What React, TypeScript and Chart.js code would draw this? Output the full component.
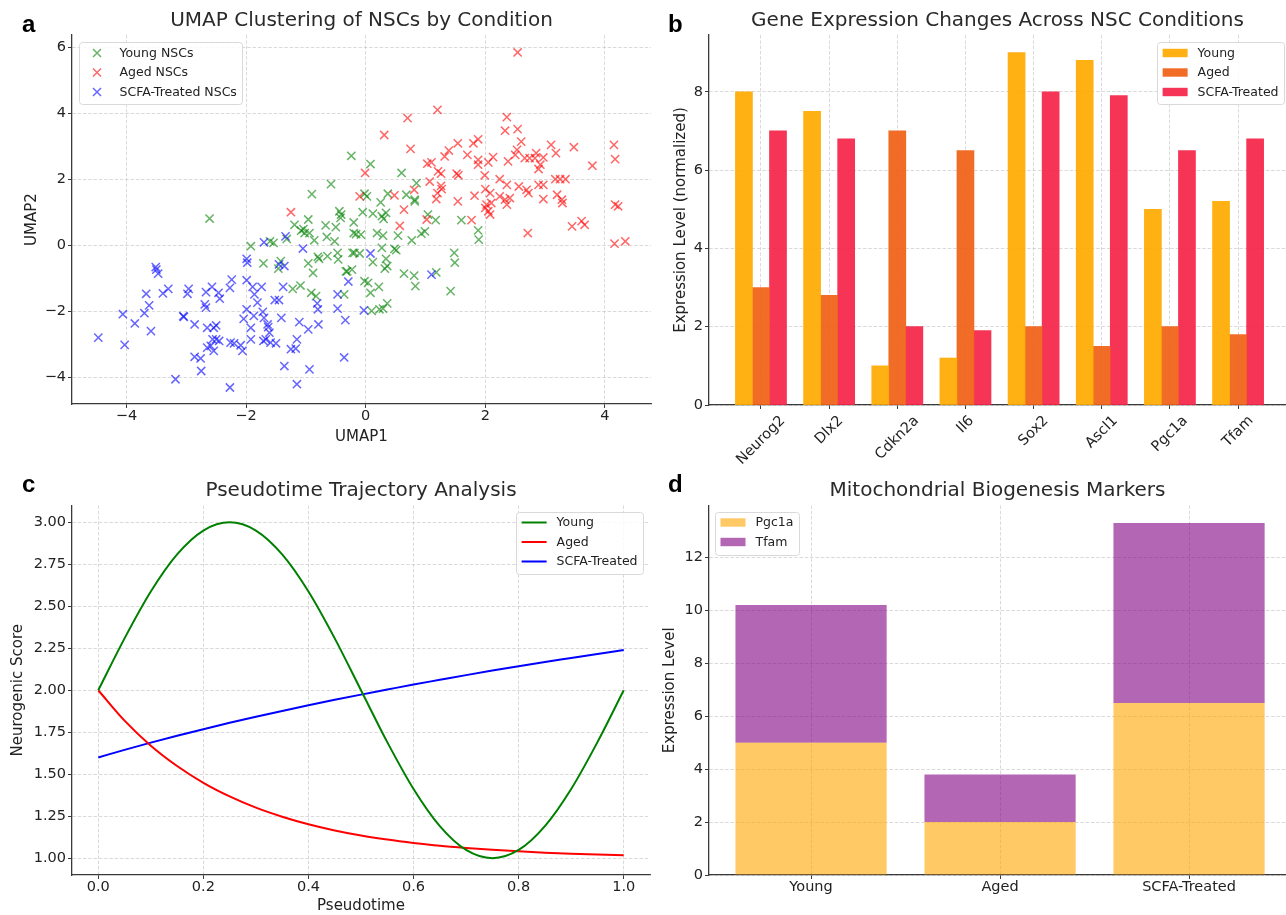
import React, { useEffect, useRef } from 'react';
import { Chart, registerables } from 'chart.js';

Chart.register(...registerables);

// ---------------- Panel a: UMAP scatter ----------------
const youngNSCs: [number, number][] = [
  [-2.61, 0.82], [-1.92, -0.02], [-1.71, -0.54], [-1.6, 0.13], [-1.54, 0.08], [-1.46, -0.7], [-1.42, -0.47], [-1.32, 0.2],
  [-1.22, -1.31], [-1.19, 0.63], [-1.09, -1.21], [-1.08, 0.45], [-1.04, 0.5], [-1.02, 0.38], [-0.96, 0.79], [-0.94, 0.38],
  [-0.96, -0.54], [-0.91, -1.43], [-0.83, -1.53], [-0.88, -0.83], [-0.86, 0.16], [-0.8, -0.34], [-0.78, -0.4], [-0.67, 0.61],
  [-0.65, 0.26], [-0.64, -0.32], [-0.52, 0.13], [-0.5, 0.56], [-0.47, -0.22], [-0.46, -0.42], [-0.44, 1.04], [-0.42, 0.84],
  [-0.36, -1.48], [-0.31, -0.78], [-0.2, 0.7], [-0.2, 0.38], [-0.16, 0.35], [-0.23, -0.73], [-0.19, -0.22],
  [-0.05, 1.01], [0.12, 0.97], [0.25, 1.31], [0.3, 0.81], [0.27, 0.89], [0.34, 0.99], [0.82, 1.34], [-0.08, 0.33],
  [0.19, 0.38], [0.29, 0.3], [0.54, 0.3], [0.77, 0.16], [0.93, 0.36], [0.99, 0.43], [1.04, 0.94], [1.17, 0.77],
  [1.6, 0.77], [1.88, 0.46], [1.89, 0.18], [-0.22, -0.22], [-0.1, -0.24], [0.12, -0.5], [0.27, -0.07], [0.34, -0.4],
  [0.48, -0.1], [0.51, -0.14], [0.32, -0.7], [0.36, -0.62], [-0.33, -0.78], [0.64, -0.85], [0.81, -0.91], [0.83, -1.23],
  [1.18, -0.81], [1.48, -0.22], [1.49, -0.52], [1.42, -1.38], [-0.02, -1.08], [0.04, -1.13], [0.08, -1.43], [0.22, -1.25],
  [0.1, -1.98], [0.23, -1.93], [0.29, -1.91], [0.36, -1.75], [-0.24, 2.72], [-0.58, 1.86], [-0.9, 1.56], [0.08, 2.47],
  [0.6, 2.2], [0.85, 1.89], [0.82, 1.39], [-0.02, 1.57], [0.02, 1.49], [0.37, 1.57], [0.68, 1.54], [-0.41, 0.94],
];
const agedNSCs: [number, number][] = [
  [2.54, 5.85], [1.2, 4.11], [0.7, 3.86], [0.31, 3.35], [2.36, 3.89], [2.33, 3.48], [2.54, 3.53], [2.6, 3.15],
  [0.75, 2.93], [1.54, 3.1], [1.8, 3.1], [1.88, 3.22], [1.7, 2.75], [1.32, 2.7], [1.39, 2.88], [3.1, 3.05],
  [3.18, 2.8], [3.48, 2.98], [3.79, 2.42], [4.15, 3.05], [4.17, 2.62], [-0.01, 2.2], [1.03, 2.48], [1.1, 2.52],
  [1.21, 2.25], [1.26, 2.18], [1.26, 1.81], [1.27, 1.71], [1.2, 1.59], [1.18, 1.41], [1.07, 1.94], [1.52, 2.18],
  [1.55, 2.13], [1.54, 1.34], [1.82, 1.51], [1.88, 2.6], [1.88, 2.45], [1.99, 2.13], [2.05, 2.52], [2.13, 2.68],
  [2.0, 1.71], [2.08, 1.59], [2.0, 1.14], [2.05, 1.04], [2.02, 1.24], [2.1, 1.29], [2.24, 2.01], [2.24, 1.49],
  [2.33, 1.39], [2.36, 1.24], [2.41, 1.44], [2.36, 1.84], [2.38, 2.55], [2.5, 2.75], [2.53, 2.9], [2.56, 1.79],
  [2.66, 2.65], [2.74, 2.65], [2.83, 2.65], [2.85, 2.8], [2.89, 2.32], [2.92, 2.45], [2.89, 1.84], [2.97, 1.84],
  [2.97, 2.67], [2.69, 1.69], [2.72, 1.59], [2.97, 1.41], [3.17, 2.01], [3.25, 2.01], [3.34, 2.01], [3.2, 1.54],
  [3.28, 1.39], [3.29, 1.29], [0.64, 1.09], [0.81, 1.69], [0.48, 1.52], [-0.1, 1.49], [0.57, 0.6], [1.02, 0.79],
  [1.77, 0.77], [3.45, 0.58], [3.61, 0.74], [3.66, 0.63], [4.17, 1.24], [4.22, 1.19], [2.71, 0.38], [4.16, 0.06],
  [4.34, 0.13], [2.08, 0.94], [-1.25, 1.01],
];
const scfaNSCs: [number, number][] = [
  [-4.47, -2.79], [-4.06, -2.08], [-4.03, -3.01], [-3.86, -2.36], [-3.7, -2.05], [-3.67, -1.46], [-3.62, -1.81], [-3.59, -2.59],
  [-3.51, -0.65], [-3.5, -0.73], [-3.47, -0.85], [-3.39, -1.45], [-3.3, -1.31], [-3.18, -4.05], [-3.05, -2.14], [-3.04, -2.16],
  [-2.98, -1.46], [-2.96, -1.31], [-2.86, -2.39], [-2.86, -3.37], [-2.76, -3.42], [-2.75, -3.8], [-2.69, -1.78], [-2.67, -1.88],
  [-2.67, -1.41], [-2.65, -2.49], [-2.57, -1.25], [-2.54, -2.49], [-2.5, -2.42], [-2.46, -1.43], [-2.44, -1.61], [-2.65, -3.09],
  [-2.56, -2.84], [-2.54, -3.19], [-2.5, -2.84], [-2.59, -3.04], [-2.45, -2.89], [-2.27, -1.28], [-2.24, -1.03], [-2.27, -4.3],
  [-2.26, -2.94], [-2.2, -2.96], [-2.04, -2.22], [-2.06, -3.19], [-1.99, -1.05], [-2.09, -3.02], [-1.99, -0.4], [-1.98, -0.52],
  [-1.99, -1.93], [-1.92, -2.49], [-1.92, -2.84], [-1.89, -1.25], [-1.86, -1.48], [-1.87, -2.13], [-1.81, -1.73], [-1.74, -1.25],
  [-1.72, -2.01], [-1.7, -2.19], [-1.64, -2.39], [-1.63, -2.47], [-1.61, -2.64], [-1.67, -2.84], [-1.59, -2.94], [-1.5, -2.96],
  [-1.71, -2.89], [-1.7, 0.1], [-1.52, -1.65], [-1.45, -1.65], [-1.45, -0.57], [-1.36, -0.62], [-1.41, -2.19], [-1.38, -1.25],
  [-1.36, -3.65], [-1.34, 0.28], [-1.25, -3.14], [-1.15, -2.84], [-1.17, -3.12], [-1.15, -4.2], [-1.11, -2.32], [-1.05, -0.09],
  [-0.96, -2.54], [-0.94, -3.75], [-0.81, -1.75], [-0.8, -1.93], [-0.79, -2.39], [-0.47, -1.48], [-0.47, -1.91], [-0.36, -3.39],
  [-0.34, -2.26], [-0.29, -1.09], [0.08, -0.24], [1.1, -0.88], [-0.03, -1.96],
];
const umapXTicks = [-4, -2, 0, 2, 4];
const umapYTicks = [-4, -2, 0, 2, 4, 6];

// ---------------- Panel b: gene expression ----------------
const genes = ['Neurog2', 'Dlx2', 'Cdkn2a', 'Il6', 'Sox2', 'Ascl1', 'Pgc1a', 'Tfam'];
const geneYoung = [8, 7.5, 1, 1.2, 9, 8.8, 5, 5.2];
const geneAged = [3, 2.8, 7, 6.5, 2, 1.5, 2, 1.8];
const geneSCFA = [7, 6.8, 2, 1.9, 8, 7.9, 6.5, 6.8];
const geneYTicks = [0, 2, 4, 6, 8];

// ---------------- Panel c: pseudotime ----------------
const pseudotime = [0, 0.05, 0.1, 0.15, 0.2, 0.25, 0.3, 0.35, 0.4, 0.45, 0.5, 0.55, 0.6, 0.65, 0.7, 0.75, 0.8, 0.85, 0.9, 0.95, 1.0];
const trajYoung = [2.0, 2.309, 2.588, 2.809, 2.951, 3.0, 2.951, 2.809, 2.588, 2.309, 2.0, 1.691, 1.412, 1.191, 1.049, 1.0, 1.049, 1.191, 1.412, 1.691, 2.0];
const trajAged = [2.0, 1.819, 1.67, 1.549, 1.449, 1.368, 1.301, 1.247, 1.202, 1.165, 1.135, 1.111, 1.091, 1.074, 1.061, 1.05, 1.041, 1.033, 1.027, 1.022, 1.018];
const trajSCFA = [1.6, 1.645, 1.688, 1.729, 1.768, 1.806, 1.842, 1.877, 1.911, 1.943, 1.974, 2.004, 2.034, 2.062, 2.09, 2.117, 2.143, 2.168, 2.192, 2.216, 2.24];
const ptXTicks = [0, 0.2, 0.4, 0.6, 0.8, 1.0];
const ptYTicks = [1.0, 1.25, 1.5, 1.75, 2.0, 2.25, 2.5, 2.75, 3.0];

// ---------------- Panel d: mitochondrial markers ----------------
const conditions = ['Young', 'Aged', 'SCFA-Treated'];
const mitoPgc1a = [5, 2, 6.5];
const mitoTfam = [5.2, 1.8, 6.8];
const mitoYTicks = [0, 2, 4, 6, 8, 10, 12];

// ---------------- styling ----------------
const FONT = '"DejaVu Sans", "Noto Sans", sans-serif';
const TEXT = '#222222';
const TITLE = '#2a2a2a';
const SPINE = '#3a3a3a';
const GRID = 'rgba(176,176,176,0.6)';

const fmtMinus = (v: number) => (v < 0 ? '\u2212' + Math.abs(v) : String(v));

function axis(o: {
  min: number; max: number; ticks: number[]; fmt: (v: number) => string; horizontal: boolean; size: number;
  title?: string; titlePad?: any; showLabels?: boolean;
}): any {
  return {
    type: 'linear',
    min: o.min,
    max: o.max,
    offset: false,
    afterBuildTicks: (s: any) => { s.ticks = o.ticks.map((v) => ({ value: v })); },
    afterFit: (s: any) => {
      if (o.horizontal) s.height = o.size; else s.width = o.size;
      s.paddingLeft = 0; s.paddingRight = 0; s.paddingTop = 0; s.paddingBottom = 0;
    },
    grid: { offset: false, color: GRID, lineWidth: 0.8, tickColor: SPINE, tickLength: 4, tickWidth: 1 },
    border: { display: true, color: SPINE, width: 1.3, dash: [3.5, 1.8] },
    ticks: {
      display: o.showLabels !== false,
      font: { family: FONT, size: 14.5, lineHeight: 1 },
      color: TEXT,
      padding: o.horizontal ? 1 : 2,
      autoSkip: false,
      maxRotation: 0,
      minRotation: 0,
      callback: (v: any) => o.fmt(Number(v)),
    },
    title: o.title
      ? { display: true, text: o.title, color: TEXT, font: { family: FONT, size: 15, lineHeight: 1.2 }, padding: o.titlePad }
      : { display: false },
  };
}

function titleOpt(text: string, top: number, bottom: number): any {
  return {
    display: true, text, color: TITLE, fullSize: false,
    font: { family: FONT, size: 20, weight: 'normal', lineHeight: 1.2 },
    padding: { top, bottom },
  };
}

// legend drawn inside the axes, matplotlib style
const mplLegend = {
  id: 'mplLegend',
  afterDatasetsDraw(chart: any, _args: any, opts: any) {
    if (!opts || !opts.kind) return;
    const { ctx, chartArea } = chart;
    const items = chart.data.datasets.map((d: any) => ({
      label: d.label,
      color: opts.kind === 'patch' ? d.backgroundColor : d.borderColor,
    }));
    const fs = 12.5;
    ctx.save();
    ctx.font = `${fs}px ${FONT}`;
    const tw = Math.max(...items.map((it: any) => ctx.measureText(it.label).width));
    const padL = 5.5, handleW = 25, gap = 10, padR = 5.5, rowH = 19.5;
    const w = padL + handleW + gap + tw + padR;
    const h = 11 + (items.length - 1) * rowH + 12.3;
    const x0 = opts.corner === 'tr' ? chartArea.right - opts.dx - w : chartArea.left + opts.dx;
    const y0 = chartArea.top + opts.dy;
    ctx.beginPath();
    ctx.roundRect(Math.round(x0) + 0.5, Math.round(y0) + 0.5, Math.round(w), Math.round(h), 3);
    ctx.fillStyle = 'rgba(255,255,255,0.85)';
    ctx.fill();
    ctx.strokeStyle = '#d9d9d9';
    ctx.lineWidth = 1;
    ctx.stroke();
    items.forEach((it: any, i: number) => {
      const cy = y0 + 11 + i * rowH;
      const hx = x0 + padL;
      if (opts.kind === 'marker') {
        const cx = hx + handleW / 2, r = 4;
        ctx.strokeStyle = it.color; ctx.lineWidth = 1.5;
        ctx.beginPath();
        ctx.moveTo(cx - r, cy - r); ctx.lineTo(cx + r, cy + r);
        ctx.moveTo(cx + r, cy - r); ctx.lineTo(cx - r, cy + r);
        ctx.stroke();
      } else if (opts.kind === 'line') {
        ctx.strokeStyle = it.color; ctx.lineWidth = 2;
        ctx.beginPath(); ctx.moveTo(hx, cy); ctx.lineTo(hx + handleW, cy); ctx.stroke();
      } else {
        ctx.fillStyle = it.color;
        ctx.fillRect(hx, cy - 4.2, handleW, 8.4);
      }
      ctx.fillStyle = TEXT; ctx.textAlign = 'left'; ctx.textBaseline = 'middle';
      ctx.fillText(it.label, hx + handleW + gap, cy + 0.5);
    });
    ctx.restore();
  },
};

// 45-degree rotated, centred category labels (matplotlib rotation=45)
const rotLabels = {
  id: 'rotLabels',
  afterDraw(chart: any, _args: any, opts: any) {
    if (!opts || !opts.labels) return;
    const s = chart.scales.x;
    const ctx = chart.ctx;
    ctx.save();
    ctx.font = `14.5px ${FONT}`;
    ctx.fillStyle = TEXT;
    opts.labels.forEach((lab: string, i: number) => {
      const px = s.getPixelForValue(i);
      const w = ctx.measureText(lab).width;
      const hh = 14.5 * 1.16;
      const ext = (w + hh) * Math.SQRT1_2;
      const cy = s.top + 7.5 + ext / 2;
      ctx.save();
      ctx.translate(px, cy);
      ctx.rotate(-Math.PI / 4);
      ctx.textAlign = 'center';
      ctx.textBaseline = 'middle';
      ctx.fillText(lab, 0, 0);
      ctx.restore();
    });
    ctx.restore();
  },
};

const base = (padding: any) => ({
  responsive: false,
  animation: false as const,
  events: [] as any[],
  layout: { autoPadding: false, padding },
});

function configA(): any {
  const pts = (arr: [number, number][]) => arr.map(([x, y]) => ({ x, y }));
  const ds = (label: string, data: [number, number][], color: string, order: number) => ({
    label, data: pts(data), order,
    pointStyle: 'crossRot', pointRadius: 5.8, pointBorderWidth: 1.5,
    borderColor: color, backgroundColor: color, pointBorderColor: color, pointBackgroundColor: color,
  });
  return {
    type: 'scatter',
    data: {
      datasets: [
        ds('Young NSCs', youngNSCs, 'rgba(0,128,0,0.6)', 3),
        ds('Aged NSCs', agedNSCs, 'rgba(255,0,0,0.6)', 2),
        ds('SCFA-Treated NSCs', scfaNSCs, 'rgba(0,0,255,0.6)', 1),
      ],
    },
    options: {
      ...base({ left: 0, right: 4, top: 0, bottom: 0 }),
      plugins: {
        legend: { display: false }, tooltip: { enabled: false },
        title: titleOpt('UMAP Clustering of NSCs by Condition', 9, 2),
        mplLegend: { kind: 'marker', corner: 'tl', dx: 7, dy: 7 },
      },
      scales: {
        x: axis({ min: -4.91, max: 4.77, ticks: umapXTicks, fmt: fmtMinus, horizontal: true, size: 51, title: 'UMAP1', titlePad: { top: 0, bottom: 9 } }),
        y: axis({ min: -4.8, max: 6.38, ticks: umapYTicks, fmt: fmtMinus, horizontal: false, size: 72, title: 'UMAP2', titlePad: { top: 23, bottom: 0 } }),
      },
    },
    plugins: [mplLegend],
  };
}

function configB(): any {
  const ds = (label: string, vals: number[], shift: number, color: string) => ({
    label,
    data: vals.map((v, i) => ({ x: i + shift, y: v })),
    backgroundColor: color, borderWidth: 0,
    grouped: false, barPercentage: 1, categoryPercentage: 1,
  });
  return {
    type: 'bar',
    data: {
      datasets: [
        ds('Young', geneYoung, -0.25, 'rgba(255,170,0,0.92)'),
        ds('Aged', geneAged, 0, 'rgba(240,95,20,0.92)'),
        ds('SCFA-Treated', geneSCFA, 0.25, 'rgba(245,35,72,0.92)'),
      ],
    },
    options: {
      ...base({ left: 0, right: 0, top: 0, bottom: 0 }),
      plugins: {
        legend: { display: false }, tooltip: { enabled: false },
        title: titleOpt('Gene Expression Changes Across NSC Conditions', 9, 2),
        mplLegend: { kind: 'patch', corner: 'tr', dx: 2, dy: 7 },
        rotLabels: { labels: genes },
      },
      scales: {
        x: axis({ min: -0.7625, max: 7.703, ticks: genes.map((_, i) => i), fmt: (v) => genes[v] ?? '', horizontal: true, size: 75, showLabels: false }),
        y: axis({ min: 0, max: 9.45, ticks: geneYTicks, fmt: (v) => String(v), horizontal: false, size: 54, title: 'Expression Level (normalized)', titlePad: { top: 17, bottom: 0 } }),
      },
    },
    plugins: [mplLegend, rotLabels],
  };
}

function configC(): any {
  const ds = (label: string, vals: number[], color: string) => ({
    label,
    data: pseudotime.map((x, i) => ({ x, y: vals[i] })),
    borderColor: color, backgroundColor: color, borderWidth: 2,
    pointRadius: 0, fill: false, cubicInterpolationMode: 'monotone',
  });
  return {
    type: 'line',
    data: {
      datasets: [
        ds('Young', trajYoung, '#008000'),
        ds('Aged', trajAged, '#ff0000'),
        ds('SCFA-Treated', trajSCFA, '#0000ff'),
      ],
    },
    options: {
      ...base({ left: 0, right: 5, top: 0, bottom: 0 }),
      plugins: {
        legend: { display: false }, tooltip: { enabled: false },
        title: titleOpt('Pseudotime Trajectory Analysis', 19, 2.5),
        mplLegend: { kind: 'line', corner: 'tr', dx: 7, dy: 6 },
      },
      scales: {
        x: axis({ min: -0.05, max: 1.05, ticks: ptXTicks, fmt: (v) => v.toFixed(1), horizontal: true, size: 40, title: 'Pseudotime', titlePad: { top: 0, bottom: 0 } }),
        y: axis({ min: 0.9, max: 3.1, ticks: ptYTicks, fmt: (v) => v.toFixed(2), horizontal: false, size: 72, title: 'Neurogenic Score', titlePad: { top: 9, bottom: 0 } }),
      },
    },
    plugins: [mplLegend],
  };
}

function configD(): any {
  const ds = (label: string, vals: number[], color: string) => ({
    label,
    data: vals.map((v, i) => ({ x: i, y: v })),
    backgroundColor: color, borderWidth: 0,
    grouped: false, barPercentage: 1, categoryPercentage: 0.8,
  });
  return {
    type: 'bar',
    data: {
      datasets: [
        ds('Pgc1a', mitoPgc1a, 'rgba(255,165,0,0.6)'),
        ds('Tfam', mitoTfam, 'rgba(128,0,128,0.6)'),
      ],
    },
    options: {
      ...base({ left: 0, right: 0, top: 0, bottom: 0 }),
      plugins: {
        legend: { display: false }, tooltip: { enabled: false },
        title: titleOpt('Mitochondrial Biogenesis Markers', 19, 2.5),
        mplLegend: { kind: 'patch', corner: 'tl', dx: 6, dy: 6 },
      },
      scales: {
        x: axis({ min: -0.54, max: 2.513, ticks: conditions.map((_, i) => i), fmt: (v) => conditions[v] ?? '', horizontal: true, size: 40 }),
        y: { ...axis({ min: 0, max: 13.965, ticks: mitoYTicks, fmt: (v) => String(v), horizontal: false, size: 54, title: 'Expression Level', titlePad: { top: 6.5, bottom: 0 } }), stacked: true },
      },
    },
    plugins: [mplLegend],
  };
}

function ChartCanvas(props: { left: number; top: number; width: number; height: number; make: () => any }) {
  const ref = useRef<HTMLCanvasElement | null>(null);
  useEffect(() => {
    if (!ref.current) return;
    const chart = new Chart(ref.current, props.make());
    return () => chart.destroy();
  }, []);
  return (
    <canvas
      ref={ref}
      width={props.width}
      height={props.height}
      style={{ position: 'absolute', left: props.left, top: props.top, width: props.width, height: props.height }}
    />
  );
}

const letterStyle = (left: number, top: number): React.CSSProperties => ({
  position: 'absolute', left, top, fontFamily: '"Liberation Sans", Arial, sans-serif',
  fontWeight: 'bold', fontSize: 24, lineHeight: '24px', color: '#000',
});

export default function App() {
  return (
    <div style={{ position: 'absolute', left: 0, top: 0, width: 1286, height: 915, overflow: 'hidden', background: '#ffffff' }}>
      <ChartCanvas left={0} top={0} width={655} height={455} make={configA} />
      <ChartCanvas left={655} top={0} width={631} height={480} make={configB} />
      <ChartCanvas left={0} top={460} width={655} height={455} make={configC} />
      <ChartCanvas left={655} top={460} width={631} height={455} make={configD} />
      <div style={letterStyle(22, 12)}>a</div>
      <div style={letterStyle(668, 12)}>b</div>
      <div style={letterStyle(22, 472)}>c</div>
      <div style={letterStyle(668, 472)}>d</div>
    </div>
  );
}
